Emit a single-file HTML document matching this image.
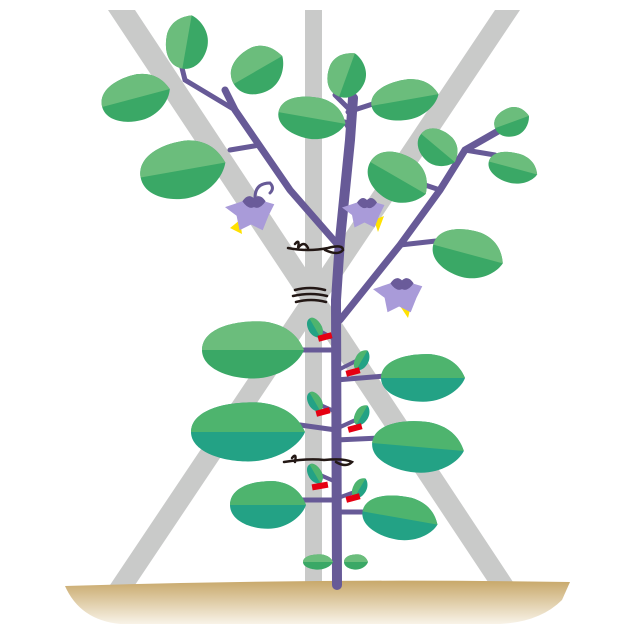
<!DOCTYPE html>
<html><head><meta charset="utf-8"><style>html,body{margin:0;padding:0;background:#fff}svg{display:block}</style></head>
<body>
<svg width="640" height="640" viewBox="0 0 640 640" xmlns="http://www.w3.org/2000/svg">
<defs>
<linearGradient id="g" x1="0" y1="0" x2="0" y2="1"><stop offset="0" stop-color="#c8a86a"/><stop offset="1" stop-color="#f8f3e8"/></linearGradient>
<g id="L"><path d="M-1,0 C-1,-0.7 -0.4,-1 0.2,-0.95 C0.7,-0.85 0.9,-0.4 1,0 C0.9,0.45 0.5,0.95 0,0.95 C-0.5,0.95 -1,0.6 -1,0Z" fill="#3aa866"/><path d="M-1,0 C-1,-0.7 -0.4,-1 0.2,-0.95 C0.7,-0.85 0.9,-0.4 1,0Z" fill="#6bbd7c"/></g>
<g id="T"><path d="M-1,0 C-1,-0.7 -0.4,-1 0.2,-0.95 C0.7,-0.85 0.9,-0.4 1,0 C0.9,0.45 0.5,0.95 0,0.95 C-0.5,0.95 -1,0.6 -1,0Z" fill="#23a285"/><path d="M-1,0 C-1,-0.7 -0.4,-1 0.2,-0.95 C0.7,-0.85 0.9,-0.4 1,0Z" fill="#4eb46e"/></g>
<g id="F"><path d="M0,-8 L14,-4 L10,4 L6,14 L-2,10 L-10,14 L-12,4 L-20,-2 L-8,-6Z" fill="#a99bd9"/><path d="M-8,-6 q4,-6 8,-2 q4,-4 8,2 q-4,6 -8,4 q-4,2 -8,-4z" fill="#6a5b9a"/></g>
</defs>
<g fill="#c9cac9">
<polygon points="108,10 135,10 515,585 490,585"/>
<polygon points="495,10 520,10 135,585 110,585"/>
<rect x="305" y="10" width="17" height="575"/>
</g>
<path d="M65,586 Q320,578 570,582 L562,600 Q540,622 500,624 L120,624 Q80,620 65,586Z" fill="url(#g)"/>
<g stroke="#675a97" stroke-linecap="round" fill="none">
<path d="M337,585 L336,300 L340,240 L350,140 L353,98" stroke-width="10"/>
<path d="M338,245 L290,190 L235,110 L225,90" stroke-width="7"/>
<path d="M260,145 L230,150" stroke-width="5"/>
<path d="M235,110 L185,80 L182,68" stroke-width="5"/>
<path d="M340,320 L400,245 L440,190 L465,150 L500,130" stroke-width="7"/>
<path d="M400,245 L445,240" stroke-width="5"/>
<path d="M440,190 L410,180" stroke-width="5"/>
<path d="M465,150 L495,155" stroke-width="5"/>
<path d="M350,130 L345,122 M348,112 L385,100 M350,110 L335,95" stroke-width="5"/>
<path d="M336,350 L300,350 M336,380 L385,376 M336,430 L300,425 M336,440 L380,438 M336,500 L300,500 M336,512 L370,512" stroke-width="5"/>
<path d="M336,340 L318,330 M338,370 L358,360 M336,412 L318,404 M338,428 L360,418 M336,482 L318,474 M338,498 L360,490" stroke-width="4"/>
<path d="M255,198 q0,-15 15,-15 q5,5 0,10" stroke-width="3"/>
</g>
<use href="#L" transform="translate(187,42) rotate(-80) scale(27,22)"/>
<use href="#L" transform="translate(136,98) rotate(-15) scale(35,24)"/>
<use href="#L" transform="translate(258,70) rotate(-30) scale(28,24)"/>
<use href="#L" transform="translate(347,75) rotate(-70) scale(23,20)"/>
<use href="#L" transform="translate(312,118) rotate(10) scale(34,22)"/>
<use href="#L" transform="translate(405,100) rotate(-10) scale(34,21)"/>
<use href="#L" transform="translate(183,170) rotate(-10) scale(43,30)"/>
<use href="#L" transform="translate(438,148) rotate(40) scale(22,18)"/>
<use href="#L" transform="translate(512,122) rotate(-20) scale(18,15)"/>
<use href="#L" transform="translate(513,168) rotate(15) scale(25,16)"/>
<use href="#L" transform="translate(398,178) rotate(30) scale(32,25)"/>
<use href="#L" transform="translate(468,254) rotate(15) scale(36,25)"/>
<use href="#L" transform="translate(253,350) rotate(0) scale(51,30)"/>
<use href="#T" transform="translate(423,378) rotate(0) scale(42,25)"/>
<use href="#T" transform="translate(248,432) rotate(0) scale(57,31)"/>
<use href="#T" transform="translate(418,447) rotate(5) scale(46,27)"/>
<use href="#T" transform="translate(268,505) rotate(0) scale(38,25)"/>
<use href="#T" transform="translate(400,518) rotate(10) scale(38,23)"/>
<use href="#L" transform="translate(318,562) scale(15,8)"/>
<use href="#L" transform="translate(356,562) scale(12,8)"/>
<use href="#T" transform="translate(315,328) rotate(60) scale(11,7)"/>
<use href="#T" transform="translate(362,360) rotate(-60) scale(11,7)"/>
<use href="#T" transform="translate(315,402) rotate(60) scale(11,7)"/>
<use href="#T" transform="translate(362,415) rotate(-60) scale(11,7)"/>
<use href="#T" transform="translate(315,474) rotate(60) scale(11,7)"/>
<use href="#T" transform="translate(360,488) rotate(-60) scale(11,7)"/>
<g fill="#e60012">
<rect x="318" y="334" width="14" height="6" transform="rotate(-15 325 337)"/>
<rect x="346" y="369" width="14" height="6" transform="rotate(-15 353 372)"/>
<rect x="316" y="409" width="14" height="6" transform="rotate(-15 323 412)"/>
<rect x="348" y="425" width="14" height="6" transform="rotate(-15 355 428)"/>
<rect x="312" y="483" width="16" height="6" transform="rotate(-10 320 486)"/>
<rect x="346" y="495" width="14" height="6" transform="rotate(-15 353 498)"/>
</g>
<polygon points="230,228 240,220 242,234" fill="#ffe100"/>
<use href="#F" transform="translate(254,210) scale(1.45)"/>
<polygon points="374,220 384,216 378,232" fill="#ffe100"/>
<use href="#F" transform="translate(367,210) scale(1.25)"/>
<polygon points="400,306 412,302 408,318" fill="#ffe100"/>
<use href="#F" transform="translate(402,292) scale(1.45)"/>
<g stroke="#231815" stroke-width="2.5" fill="none" stroke-linecap="round">
<path d="M288,248 q20,4 40,0 q15,-4 15,2 q-5,6 -18,0 M295,244 q5,-6 3,4 q6,-8 10,0"/>
<path d="M295,290 q15,-4 30,0 M293,296 q18,-4 34,0 M296,302 q15,-4 30,0"/>
<path d="M284,462 q25,-4 40,-2 q20,-2 28,2 q-6,6 -16,0 M292,458 q5,-6 3,4"/>
</g>
</svg>
</body></html>
